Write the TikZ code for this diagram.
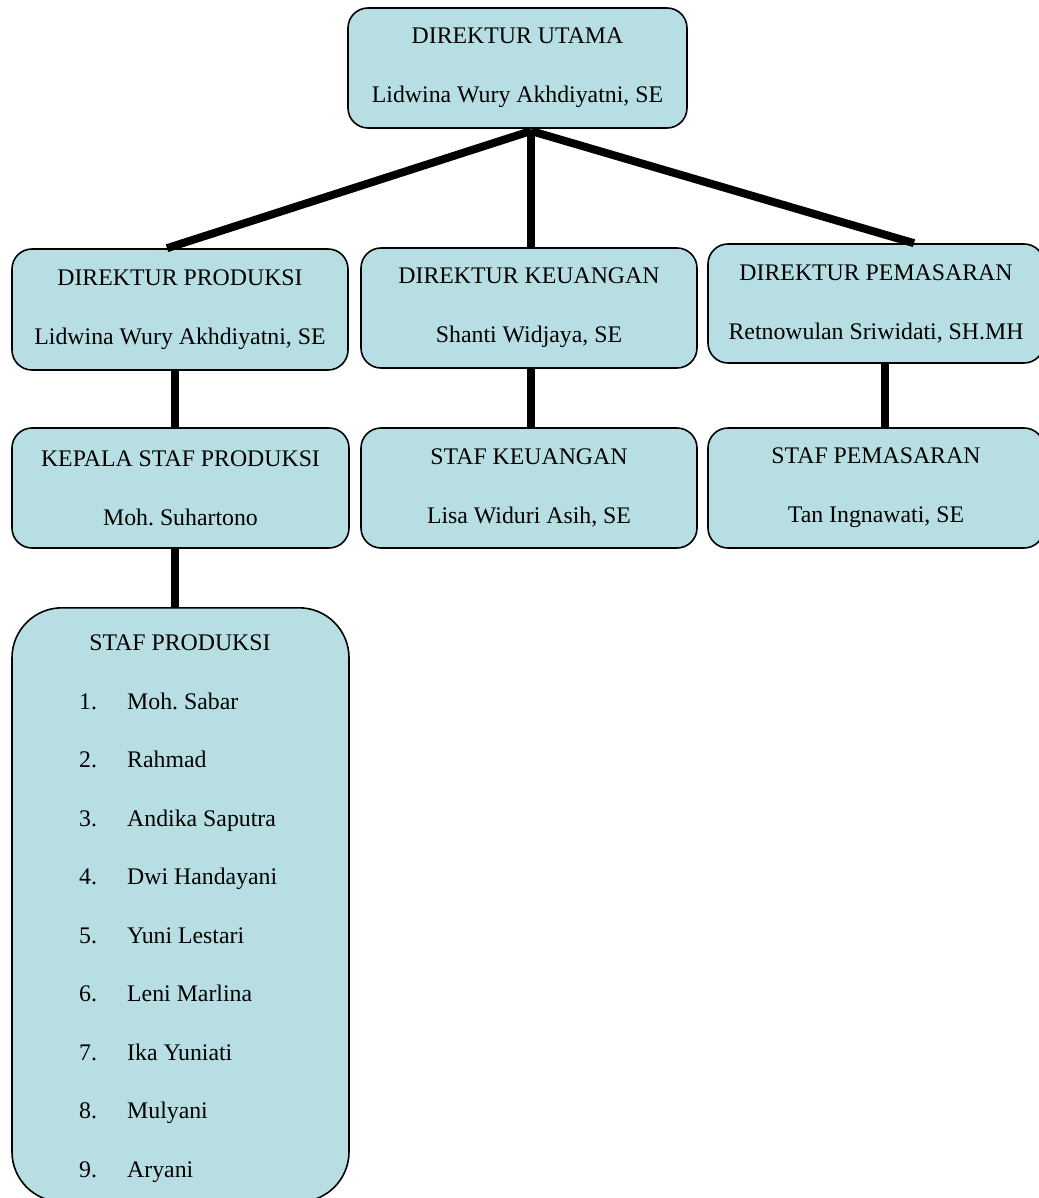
\documentclass[tikz,border=0pt]{standalone}
\usepackage{fontspec}
\setmainfont{Liberation Serif}
\frenchspacing
\definecolor{boxfill}{HTML}{B7DFE3}
\tikzset{
  orgbox/.style={draw=black, line width=1.6pt, fill=boxfill, rounded corners=20pt,
    align=center, inner sep=0pt, font=\fontsize{23.8}{59}\selectfont},
  bigbox/.style={draw=black, line width=1.6pt, fill=boxfill, rounded corners=50pt, inner sep=0pt},
  conn/.style={line width=8pt},
  txt/.style={inner sep=0pt, anchor=base west, font=\fontsize{23.8}{27}\selectfont},
  txtc/.style={inner sep=0pt, anchor=base, font=\fontsize{23.8}{27}\selectfont}
}
\begin{document}
\begin{tikzpicture}[x=1pt,y=-1pt]
\useasboundingbox (0,0) rectangle (1038,1198);
\coordinate (apex) at (531,131);
\node[orgbox, minimum width=339pt, minimum height=120pt] (du) at (517.5,68) {DIREKTUR UTAMA\\Lidwina Wury Akhdiyatni, SE};
\node[orgbox, minimum width=336pt, minimum height=121pt] (dp) at (180,309.5) {DIREKTUR PRODUKSI\\Lidwina Wury Akhdiyatni, SE};
\node[orgbox, minimum width=336pt, minimum height=120pt] (dk) at (529,308) {DIREKTUR KEUANGAN\\Shanti Widjaya, SE};
\node[orgbox, minimum width=336pt, minimum height=119pt] (dm) at (876,303.5) {DIREKTUR PEMASARAN\\Retnowulan Sriwidati, SH.MH};
\node[orgbox, minimum width=337pt, minimum height=120pt] (ks) at (180.5,488) {KEPALA STAF PRODUKSI\\Moh. Suhartono};
\node[orgbox, minimum width=336pt, minimum height=120pt] (sk) at (529,488) {STAF KEUANGAN\\Lisa Widuri Asih, SE};
\node[orgbox, minimum width=336pt, minimum height=120pt] (sm) at (876,488) {STAF PEMASARAN\\Tan Ingnawati, SE};
\node[bigbox, minimum width=337pt, minimum height=594pt, anchor=north] (sp) at (180.5,607) {};
\draw[conn] (apex) -- ([xshift=-13pt]dp.north);
\draw[conn] (apex) -- ([xshift=2pt]dk.north);
\draw[conn] (apex) -- ([xshift=38pt]dm.north);
\draw[conn] ([xshift=-5pt]dp.south) -- ([xshift=-5.5pt]ks.north);
\draw[conn] ([xshift=2pt]dk.south) -- ([xshift=2pt]sk.north);
\draw[conn] ([xshift=9pt]dm.south) -- ([xshift=9pt]sm.north);
\draw[conn] ([xshift=-5.5pt]ks.south) -- ([xshift=-5.5pt]sp.north);
\node[txtc] (sph) at (180,650) {STAF PRODUKSI};
\foreach \n/\name [count=\i] in {1/Moh. Sabar,2/Rahmad,3/Andika Saputra,4/Dwi Handayani,5/Yuni Lestari,6/Leni Marlina,7/Ika Yuniati,8/Mulyani,9/Aryani}{
  \node[txt] (num\i) at (79,{1177-(9-\i)*58.5}) {\n.};
  \node[txt] (nm\i) at (127,{1177-(9-\i)*58.5}) {\name};
}
\end{tikzpicture}
\end{document}
